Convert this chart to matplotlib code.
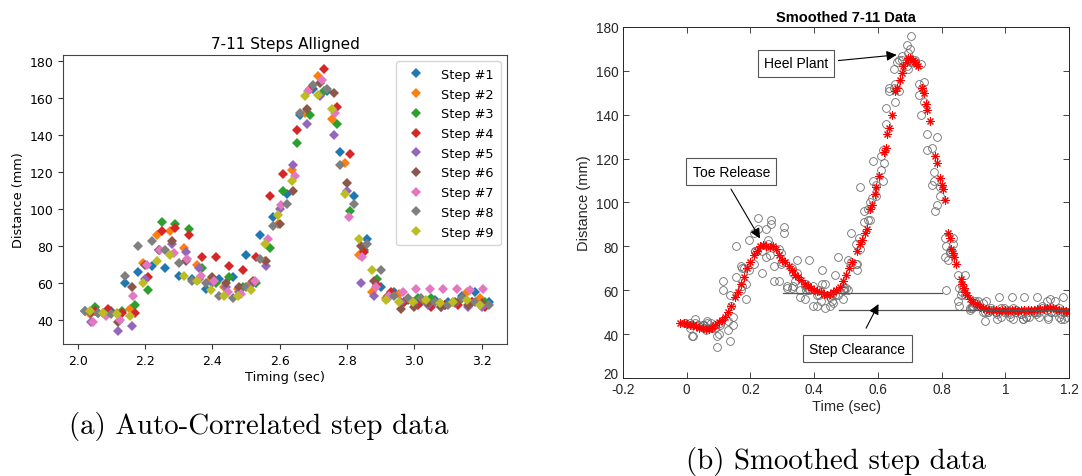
import matplotlib
matplotlib.use("Agg")
import matplotlib.pyplot as plt
import numpy as np

# ---------------- data ----------------
sample_period = 0.04  # s between samples of one step

step_labels = ["Step #1", "Step #2", "Step #3", "Step #4", "Step #5",
               "Step #6", "Step #7", "Step #8", "Step #9"]
step_starts = [2.02, 2.035, 2.05, 2.05, 2.04, 2.04, 2.045, 2.02, 2.035]

step1 = [45, 44, 45, 60, 66, 69, 68, 64, 62, 57, 62, 63, 75, 86, 96, 108, 151, 165, 164, 131,
         107, 84, 58, 55, 51, 50, 51, 50, 53, 55, 50]
step2 = [43, 44, 44, 46, 71, 86, 88, 79, 70, 62, 58, 57, 60, 72, 92, 121, 152, 172, 149, 125,
         75, 55, 52, 54, 50, 50, 49, 50, 55, 52]
step3 = [47, 45, 45, 48, 56, 93, 92, 89, 68, 60, 63, 58, 60, 79, 110, 136, 151, 164, 146, 99,
         78, 62, 54, 50, 52, 52, 48, 50, 50, 50]
step4 = [45, 46, 44, 44, 63, 88, 90, 86, 74, 74, 69, 67, 74, 107, 119, 143, 165, 176, 155, 130,
         77, 59, 55, 50, 48, 47, 48, 48, 50, 47]
step5 = [39, 43, 34, 37, 62, 78, 81, 77, 68, 60, 58, 55, 60, 69, 100, 124, 146, 161, 140, 110,
         60, 53, 52, 50, 49, 48, 47, 49, 47, 47]
step6 = [44, 44, 39, 58, 70, 78, 83, 72, 62, 63, 60, 58, 61, 72, 92, 110, 154, 168, 163, 114,
         80, 61, 53, 46, 47, 49, 47, 50, 48, 49]
step7 = [39, 42, 40, 53, 70, 78, 76, 73, 64, 61, 55, 54, 61, 84, 102, 118, 164, 170, 152, 96,
         74, 58, 53, 55, 57, 57, 57, 57, 56, 57]
step8 = [45, 44, 43, 64, 80, 83, 78, 71, 61, 60, 53, 52, 58, 73, 91, 103, 152, 167, 165, 124,
         103, 81, 67, 53, 52, 52, 50, 48, 52, 50, 48]
step9 = [45, 44, 43, 42, 60, 72, 75, 64, 61, 56, 53, 53, 56, 81, 97, 115, 161, 162, 154, 108,
         84, 67, 51, 50, 50, 51, 49, 50, 51, 48]
steps = [step1, step2, step3, step4, step5, step6, step7, step8, step9]

align_shift = 2.025  # s, start of the aligned step window

smooth_t = [-0.02, -0.01, 0.00, 0.01, 0.02, 0.03, 0.04, 0.05, 0.06, 0.07, 0.08, 0.09, 0.10,
            0.11, 0.12, 0.13, 0.14, 0.15, 0.16, 0.17, 0.18, 0.19, 0.20, 0.21, 0.22, 0.23,
            0.24, 0.25, 0.26, 0.27, 0.28, 0.29, 0.30, 0.31, 0.32, 0.33, 0.34, 0.35, 0.36,
            0.37, 0.38, 0.39, 0.40, 0.41, 0.42, 0.43, 0.44, 0.45, 0.46, 0.47, 0.48, 0.49,
            0.50, 0.51, 0.52, 0.535, 0.545, 0.55, 0.56, 0.565, 0.575, 0.58, 0.59, 0.595,
            0.605, 0.62, 0.625, 0.63, 0.635, 0.645, 0.655, 0.66, 0.67, 0.675, 0.68, 0.69,
            0.695, 0.70, 0.71, 0.715, 0.72, 0.725, 0.74, 0.745, 0.75, 0.755, 0.765, 0.78,
            0.785, 0.795, 0.80, 0.805, 0.81, 0.82, 0.825, 0.83, 0.835, 0.84, 0.845, 0.86,
            0.865, 0.87, 0.875, 0.88, 0.89, 0.90, 0.91, 0.92, 0.93, 0.94, 0.95, 0.96, 0.97,
            0.98, 0.99, 1.00, 1.01, 1.02, 1.03, 1.04, 1.05, 1.06, 1.07, 1.08, 1.09, 1.10,
            1.11, 1.12, 1.13, 1.14, 1.15, 1.16, 1.17, 1.18, 1.19, 1.20]
smooth_y = [45, 45, 44.5, 44, 44, 43.5, 43, 43, 42.5, 42.5, 43, 44, 45.5,
            46.5, 48, 50, 53, 57, 59, 63, 66, 70, 73, 76, 78, 80,
            80.5, 80, 79.5, 80, 79, 76, 74, 73, 71, 69, 67, 66, 64.5,
            63, 62, 61, 60, 59.5, 59, 58.5, 58, 58.5, 59, 60, 61.5, 64,
            67, 70, 73, 78, 81, 83, 86, 88, 97, 99, 104, 107,
            112, 123, 125, 131, 134, 140, 151, 152, 156, 159, 162, 164,
            166, 166, 165, 164, 163, 162, 152, 150, 145, 142, 137, 121,
            118, 111, 108, 106, 101, 86, 84, 79, 77, 75, 72, 65,
            63, 61, 59, 58, 56, 54.5, 53.5, 52.5, 52, 51.5, 51, 51, 51,
            50.5, 51, 51, 50.5, 51, 51, 50.5, 51, 51, 51, 51, 51, 51.5,
            51.5, 51.5, 52, 52, 52, 51.5, 51, 51, 50.5, 50]

left_xticks = [2.0, 2.2, 2.4, 2.6, 2.8, 3.0, 3.2]
left_yticks = [40, 60, 80, 100, 120, 140, 160, 180]
right_xticks = [-0.2, 0, 0.2, 0.4, 0.6, 0.8, 1.0, 1.2]
right_xticklabels = ["-0.2", "0", "0.2", "0.4", "0.6", "0.8", "1", "1.2"]
right_yticks = [20, 40, 60, 80, 100, 120, 140, 160, 180]

# ---------------- figure ----------------
fig = plt.figure(figsize=(10.82, 4.77), dpi=100)

# ----- left panel (matplotlib default look) -----
axl = fig.add_axes([0.0582, 0.2767, 0.4104, 0.6059])
colors = plt.rcParams["axes.prop_cycle"].by_key()["color"]
for i, (lab, st, vals) in enumerate(zip(step_labels, step_starts, steps)):
    t = st + sample_period * np.arange(len(vals))
    axl.plot(t, vals, linestyle="none", marker="D", ms=5.5, color=colors[i],
             markeredgewidth=0, label=lab)
axl.set_xlim(1.956, 3.275)
axl.set_ylim(27, 183.4)
axl.set_xticks(left_xticks)
axl.set_xticklabels([f"{v:.1f}" for v in left_xticks])
axl.set_yticks(left_yticks)
axl.tick_params(labelsize=9, length=3.5, color="#333333")
axl.set_title("7-11 Steps Alligned", fontsize=11, pad=5)
axl.set_xlabel("Timing (sec)", fontsize=9.3, labelpad=2)
axl.set_ylabel("Distance (mm)", fontsize=9.3, labelpad=3)
for s in axl.spines.values():
    s.set_color("#444444")
axl.legend(loc="upper right", fontsize=9.3, handletextpad=1.0, borderpad=0.5,
           labelspacing=0.52, framealpha=0.8, edgecolor="#cccccc")

# ----- right panel (MATLAB look) -----
mfont = "Liberation Sans"
axr = fig.add_axes([0.5758, 0.2055, 0.4122, 0.7358])
for st, vals in zip(step_starts, steps):
    t = st + sample_period * np.arange(len(vals)) - align_shift
    axr.plot(t, vals, linestyle="none", marker="o", ms=5.6, mfc="none",
             mec="#6e6e6e", mew=0.6)
axr.plot(smooth_t, smooth_y, linestyle="none", marker=(8, 2, 0), ms=5.8,
         color="#ff0000", mew=0.75)
axr.set_xlim(-0.2, 1.2)
axr.set_ylim(20, 180)
axr.set_xticks(right_xticks)
axr.set_xticklabels(right_xticklabels, fontname=mfont)
axr.set_yticks(right_yticks)
axr.set_yticklabels([str(v) for v in right_yticks], fontname=mfont)
axr.tick_params(direction="in", top=True, right=True, length=4, width=0.6,
                labelsize=9.8, colors="#262626", pad=3)
axr.get_yticklabels()[0].set_verticalalignment("baseline")
for s in axr.spines.values():
    s.set_color("#262626")
    s.set_linewidth(0.7)
axr.set_title("Smoothed 7-11 Data", fontsize=10.5, fontweight="bold",
              fontname=mfont, pad=4)
axr.set_xlabel("Time (sec)", fontsize=10.5, fontname=mfont, color="#262626", labelpad=2)
axr.set_ylabel("Distance (mm)", fontsize=10.5, fontname=mfont, color="#262626", labelpad=4)

box = dict(boxstyle="square,pad=0.45", fc="white", ec="#555555", lw=0.8)
arrow = dict(arrowstyle="-|>", color="black", lw=0.8, mutation_scale=15,
             shrinkA=0, shrinkB=0)
# clearance reference lines
axr.plot([0.301, 0.800], [58.7, 58.7], color="#555555", lw=0.9)
axr.plot([0.479, 1.2], [51.1, 51.1], color="#555555", lw=0.9)

axr.annotate("", xy=(0.659, 167.3), xytext=(0.476, 164.7), arrowprops=arrow)
axr.text(0.343, 163.4, "Heel Plant", fontsize=10, fontname=mfont,
         ha="center", va="center", bbox=box)
axr.annotate("", xy=(0.230, 83.6), xytext=(0.139, 106.1), arrowprops=arrow)
axr.text(0.140, 114.1, "Toe Release", fontsize=10, fontname=mfont,
         ha="center", va="center", bbox=box)
axr.annotate("", xy=(0.602, 53.7), xytext=(0.563, 42.7), arrowprops=arrow)
axr.text(0.536, 33.4, "Step Clearance", fontsize=10, fontname=mfont,
         ha="center", va="center", bbox=box)

# ----- captions -----
fig.text(259 / 1082, 1 - 427 / 477, "(a) Auto-Correlated step data",
         family="cmr10", fontsize=20.8, ha="center", va="center")
fig.text(836 / 1082, 1 - 462 / 477, "(b) Smoothed step data",
         family="cmr10", fontsize=20.8, ha="center", va="center")

fig.savefig("out.png", dpi=100)
